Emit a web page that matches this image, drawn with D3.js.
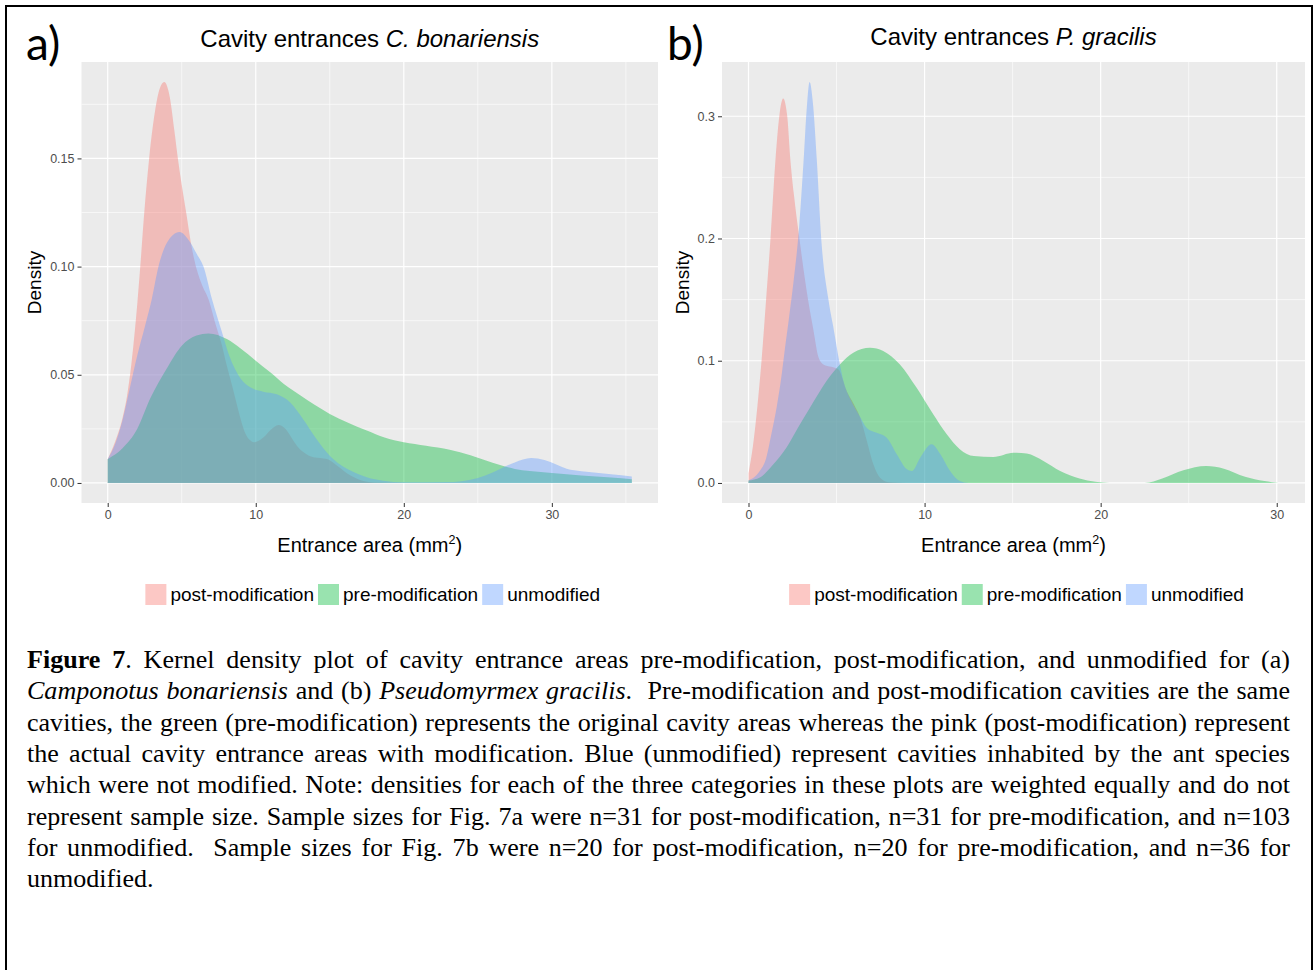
<!DOCTYPE html>
<html><head><meta charset="utf-8">
<script src="https://cdn.jsdelivr.net/npm/d3@7"></script>
<style>body{margin:0;background:#fff}</style>
</head><body>
<svg id="c" width="1316" height="970"></svg>
<script>
// ---------- data ----------
const categories = ["post-modification", "pre-modification", "unmodified"];
const colors = ["#F8766D", "#00BA38", "#619CFF"];

// Panel a: C. bonariensis  ([entrance area, density])
const aPost = [[0,0.011],[0.5,0.019],[1,0.030],[1.3,0.040],[1.6,0.055],[2.0,0.083],[2.2,0.100],[2.47,0.125],[2.8,0.150],[3.2,0.172],[3.5,0.182],[3.82,0.1853],[4.2,0.178],[4.5,0.163],[4.74,0.150],[5.3,0.125],[5.7,0.108],[6.0,0.099],[6.4,0.091],[6.8,0.085],[7.3,0.073],[7.7,0.064],[8.05,0.054],[8.4,0.045],[8.73,0.036],[9.0,0.029],[9.29,0.023],[9.6,0.0198],[9.85,0.0188],[10.2,0.0195],[10.53,0.0211],[11.0,0.0245],[11.54,0.0268],[12.0,0.025],[12.33,0.0218],[12.8,0.017],[13.23,0.0142],[13.9,0.0119],[14.8,0.0111],[15.5,0.008],[16.4,0.0034],[17.2,0.001],[18.0,0.0002],[20,0],[35.4,0]];
const aPre = [[0,0.011],[1,0.016],[2,0.025],[2.87,0.039],[4,0.053],[5,0.0634],[6,0.0681],[6.81,0.0691],[8.05,0.0665],[9,0.062],[10,0.0565],[11,0.051],[11.9,0.0457],[13,0.0405],[14,0.036],[15,0.0319],[16.2,0.028],[17.5,0.0242],[18.7,0.021],[20,0.0188],[21.5,0.0172],[23.1,0.0154],[24.5,0.0128],[25.5,0.0105],[26.5,0.0083],[27.5,0.0065],[28.5,0.0055],[30,0.0046],[32,0.0035],[34,0.0025],[35.4,0.0017]];
const aUnmod = [[0,0.011],[0.5,0.018],[1,0.029],[1.5,0.044],[2,0.059],[2.5,0.072],[2.98,0.085],[3.43,0.100],[4,0.111],[4.85,0.116],[5.5,0.112],[6,0.106],[6.47,0.100],[7.04,0.085],[7.72,0.0696],[8.1,0.061],[8.5,0.054],[9,0.048],[9.63,0.0442],[10.5,0.0422],[11.43,0.041],[12.33,0.0372],[13.2,0.0295],[14.1,0.0203],[15,0.0126],[16.4,0.0057],[17.5,0.0026],[18.6,0.001],[20,0.0003],[23,0.0004],[24.5,0.0015],[25.5,0.0035],[26.5,0.0065],[27.5,0.0095],[28.6,0.0115],[29.5,0.0106],[30.3,0.0085],[31,0.0066],[32,0.0054],[33,0.0047],[34,0.004],[35.4,0.003]];

// Panel b: P. gracilis
const bPost = [[0,0.008],[0.25,0.03],[0.5,0.062],[0.74,0.100],[1.0,0.150],[1.25,0.200],[1.53,0.264],[1.75,0.300],[1.97,0.3145],[2.2,0.300],[2.38,0.264],[2.57,0.237],[2.89,0.200],[3.38,0.150],[3.7,0.124],[3.97,0.103],[4.25,0.097],[4.7,0.095],[5.1,0.093],[5.58,0.075],[6.0,0.064],[6.34,0.0535],[6.72,0.0344],[7.09,0.0153],[7.47,0.0043],[8.0,0.0005],[9,0],[30.1,0]];
const bPre = [[0,0.002],[0.65,0.0045],[1.4,0.015],[2.16,0.029],[2.8,0.045],[3.49,0.0616],[4.43,0.0835],[5.19,0.097],[5.95,0.1066],[6.9,0.1107],[7.65,0.108],[8.6,0.097],[9.54,0.078],[10.5,0.056],[11.25,0.040],[12.0,0.0276],[12.8,0.022],[13.9,0.0213],[15.05,0.0248],[15.8,0.024],[16.75,0.018],[17.7,0.0098],[18.8,0.0036],[19.7,0.001],[20.5,0],[22.5,0],[23.5,0.0036],[24.7,0.0104],[26,0.0139],[27,0.0117],[28.2,0.005],[29.3,0.0015],[30.1,0]];
const bUnmod = [[0,0.002],[0.65,0.01],[1.0,0.02],[1.3,0.04],[1.6,0.062],[1.85,0.085],[2.07,0.11],[2.3,0.135],[2.56,0.165],[2.88,0.21],[3.13,0.264],[3.3,0.305],[3.47,0.328],[3.65,0.312],[3.88,0.264],[4.13,0.2],[4.54,0.15],[4.86,0.124],[5.15,0.10],[5.4,0.083],[5.8,0.068],[6.3,0.055],[6.72,0.045],[7.28,0.041],[7.85,0.037],[8.42,0.0235],[9.0,0.0112],[9.28,0.0098],[9.75,0.0207],[10.4,0.0317],[10.9,0.0235],[11.45,0.0098],[12.0,0.0016],[12.5,0],[30.1,0]];

const xTicksA = [0, 10, 20, 30];
const yTicksA = [0, 0.05, 0.10, 0.15];
const yLabelsA = ["0.00", "0.05", "0.10", "0.15"];
const xTicksB = [0, 10, 20, 30];
const yTicksB = [0, 0.1, 0.2, 0.3];
const yLabelsB = ["0.0", "0.1", "0.2", "0.3"];

const titleA = ["Cavity entrances ", "C. bonariensis"];
const titleB = ["Cavity entrances ", "P. gracilis"];
const xTitle = ["Entrance area (mm", "2", ")"];
const yTitle = "Density";

const captionLines = [
  [["Figure 7","b"],[". Kernel density plot of cavity entrance areas pre-modification, post-modification, and unmodified for (a)","n"]],
  [["Camponotus bonariensis","i"],[" and (b) ","n"],["Pseudomyrmex gracilis","i"],[".  Pre-modification and post-modification cavities are the same","n"]],
  [["cavities, the green (pre-modification) represents the original cavity areas whereas the pink (post-modification) represent","n"]],
  [["the actual cavity entrance areas with modification. Blue (unmodified) represent cavities inhabited by the ant species","n"]],
  [["which were not modified. Note: densities for each of the three categories in these plots are weighted equally and do not","n"]],
  [["represent sample size. Sample sizes for Fig. 7a were n=31 for post-modification, n=31 for pre-modification, and n=103","n"]],
  [["for unmodified.  Sample sizes for Fig. 7b were n=20 for post-modification, n=20 for pre-modification, and n=36 for","n"]],
  [["unmodified.","n"]]
];

// ---------- drawing ----------
const svg = d3.select("#c");
const SANS = "'Liberation Sans', Arial, sans-serif";

svg.append("path").attr("d", "M6,975V6H1312V975").attr("fill", "none").attr("stroke", "#000").attr("stroke-width", 2);

function panel(cfg) {
  const g = svg.append("g");
  const allX = cfg.series.flat().map(d => d[0]);
  const allY = cfg.series.flat().map(d => d[1]);
  const xmin = d3.min(allX), xmax = d3.max(allX), ymax = d3.max(allY);
  const xr = xmax - xmin, yr = ymax;
  const x = d3.scaleLinear().domain([xmin - 0.05 * xr, xmax + 0.05 * xr]).range([cfg.left, cfg.right]);
  const y = d3.scaleLinear().domain([-0.05 * yr, ymax + 0.05 * yr]).range([cfg.bottom, cfg.top]);

  g.append("rect").attr("x", cfg.left).attr("y", cfg.top)
    .attr("width", cfg.right - cfg.left).attr("height", cfg.bottom - cfg.top).attr("fill", "#EBEBEB");

  const grid = g.append("g");
  cfg.xMinor.forEach(v => grid.append("line").attr("x1", x(v)).attr("x2", x(v)).attr("y1", cfg.top).attr("y2", cfg.bottom).attr("stroke", "#fff").attr("stroke-width", 0.6));
  cfg.yMinor.forEach(v => grid.append("line").attr("y1", y(v)).attr("y2", y(v)).attr("x1", cfg.left).attr("x2", cfg.right).attr("stroke", "#fff").attr("stroke-width", 0.6));
  cfg.xTicks.forEach(v => grid.append("line").attr("x1", x(v)).attr("x2", x(v)).attr("y1", cfg.top).attr("y2", cfg.bottom).attr("stroke", "#fff").attr("stroke-width", 1.2));
  cfg.yTicks.forEach(v => grid.append("line").attr("y1", y(v)).attr("y2", y(v)).attr("x1", cfg.left).attr("x2", cfg.right).attr("stroke", "#fff").attr("stroke-width", 1.2));

  const area = d3.area().x(d => x(d[0])).y0(y(0)).y1(d => y(d[1])).curve(d3.curveMonotoneX);
  cfg.series.forEach((s, i) => {
    g.append("path").datum(s).attr("d", area).attr("fill", colors[i]).attr("fill-opacity", 0.4);
  });

  const xa = g.append("g").attr("transform", `translate(0,${cfg.bottom})`)
    .call(d3.axisBottom(x).tickValues(cfg.xTicks).tickSize(4).tickPadding(3).tickFormat(d3.format("d")));
  const ya = g.append("g").attr("transform", `translate(${cfg.left},0)`)
    .call(d3.axisLeft(y).tickValues(cfg.yTicks).tickSize(4).tickPadding(3).tickFormat((d, i) => cfg.yLabels[i]));
  [xa, ya].forEach(a => {
    a.select(".domain").remove();
    a.selectAll(".tick line").attr("stroke", "#333").attr("stroke-width", 1);
    a.selectAll(".tick text").attr("fill", "#4D4D4D").style("font-family", SANS).style("font-size", "12.5px");
  });

  const cx = (cfg.left + cfg.right) / 2;
  const t = g.append("text").attr("x", cx).attr("y", cfg.titleY).attr("text-anchor", "middle")
    .style("font-family", SANS).style("font-size", "24px").attr("fill", "#000");
  t.append("tspan").text(cfg.title[0]);
  t.append("tspan").attr("font-style", "italic").text(cfg.title[1]);

  const xt = g.append("text").attr("x", cx).attr("y", 552).attr("text-anchor", "middle")
    .style("font-family", SANS).style("font-size", "20px").attr("fill", "#000");
  xt.append("tspan").text(xTitle[0]);
  xt.append("tspan").attr("dy", -8).style("font-size", "12.5px").text(xTitle[1]);
  xt.append("tspan").attr("dy", 8).text(xTitle[2]);

  g.append("text").attr("transform", `translate(${cfg.yTitleX},${(cfg.top + cfg.bottom) / 2}) rotate(-90)`)
    .attr("text-anchor", "middle").style("font-family", SANS).style("font-size", "19px").text(yTitle);

  g.append("text").attr("x", cfg.labelX).attr("y", 60).style("font-family", "Lato, 'Liberation Sans', sans-serif")
    .style("font-size", "46px").text(cfg.label);

  // legend
  const lg = g.append("g");
  let xpos = 0;
  categories.forEach((c, i) => {
    lg.append("rect").attr("x", xpos).attr("y", 584).attr("width", 21).attr("height", 21).attr("fill", colors[i]).attr("fill-opacity", 0.4);
    const tx = lg.append("text").attr("x", xpos + 25).attr("y", 601).style("font-family", SANS).style("font-size", "19px").text(c);
    xpos += 25 + tx.node().getComputedTextLength() + 4;
  });
  const lw = xpos - 4;
  lg.attr("transform", `translate(${cx + 3 - lw / 2},0)`);
}

panel({ left: 81.5, right: 658, top: 62, bottom: 503, series: [aPost, aPre, aUnmod],
  xTicks: xTicksA, yTicks: yTicksA, yLabels: yLabelsA, xMinor: [5, 15, 25, 35], yMinor: [0.025, 0.075, 0.125, 0.175],
  title: titleA, titleY: 47, yTitleX: 41, label: "a)", labelX: 26 });
panel({ left: 722, right: 1305, top: 62, bottom: 503, series: [bPost, bPre, bUnmod],
  xTicks: xTicksB, yTicks: yTicksB, yLabels: yLabelsB, xMinor: [5, 15, 25], yMinor: [0.05, 0.15, 0.25],
  title: titleB, titleY: 45, yTitleX: 689, label: "b)", labelX: 667 });

// caption, justified; font size chosen so the widest justified line just fits
const CAP_L = 27, CAP_R = 1290, CAP_Y0 = 668, CAP_DY = 31.3;
const cap = svg.append("g").style("font-family", "'Liberation Serif', 'Times New Roman', serif").attr("fill", "#000");

function tokenize(segs) {
  const words = []; let cur = null; let pending = 0;
  segs.forEach(([txt, st]) => {
    txt.split(/(\s+)/).forEach(part => {
      if (part === "") return;
      if (/^\s+$/.test(part)) { if (cur) { words.push(cur); cur = null; } pending += part.length; }
      else { if (!cur) { cur = { runs: [], spaces: words.length ? pending : 0 }; pending = 0; } cur.runs.push([part, st]); }
    });
  });
  if (cur) words.push(cur);
  return words;
}
function makeWord(w, y, fs) {
  const t = cap.append("text").attr("y", y).style("font-size", fs + "px");
  w.runs.forEach(([s, st]) => {
    const ts = t.append("tspan").text(s);
    if (st === "b") ts.attr("font-weight", "bold");
    if (st === "i") ts.attr("font-style", "italic");
  });
  return t;
}
const tokLines = captionLines.map(tokenize);
const REF = 20;
const sp = cap.append("text").style("font-size", REF + "px").text("a a");
const sp2 = cap.append("text").style("font-size", REF + "px").text("aa");
const spaceRef = sp.node().getComputedTextLength() - sp2.node().getComputedTextLength();
sp.remove(); sp2.remove();
let fsMax = 40;
tokLines.forEach((words, li) => {
  if (li === tokLines.length - 1) return;
  let w = 0;
  words.forEach(wd => { const t = makeWord(wd, -100, REF); w += t.node().getComputedTextLength() + wd.spaces * spaceRef; t.remove(); });
  fsMax = Math.min(fsMax, REF * (CAP_R - CAP_L) / w);
});
const FS = fsMax * 0.99;
const spaceW = spaceRef * FS / REF;

tokLines.forEach((words, li) => {
  const y = CAP_Y0 + li * CAP_DY;
  const nodes = words.map(w => { const t = makeWord(w, y, FS); w.w = t.node().getComputedTextLength(); return t; });
  const totalSpaces = d3.sum(words, w => w.spaces);
  const sumW = d3.sum(words, w => w.w);
  const last = li === tokLines.length - 1;
  const per = last ? spaceW : (CAP_R - CAP_L - sumW) / totalSpaces;
  let xx = CAP_L;
  words.forEach((w, i) => { xx += w.spaces * per; nodes[i].attr("x", xx); xx += w.w; });
});
</script>
</body></html>
